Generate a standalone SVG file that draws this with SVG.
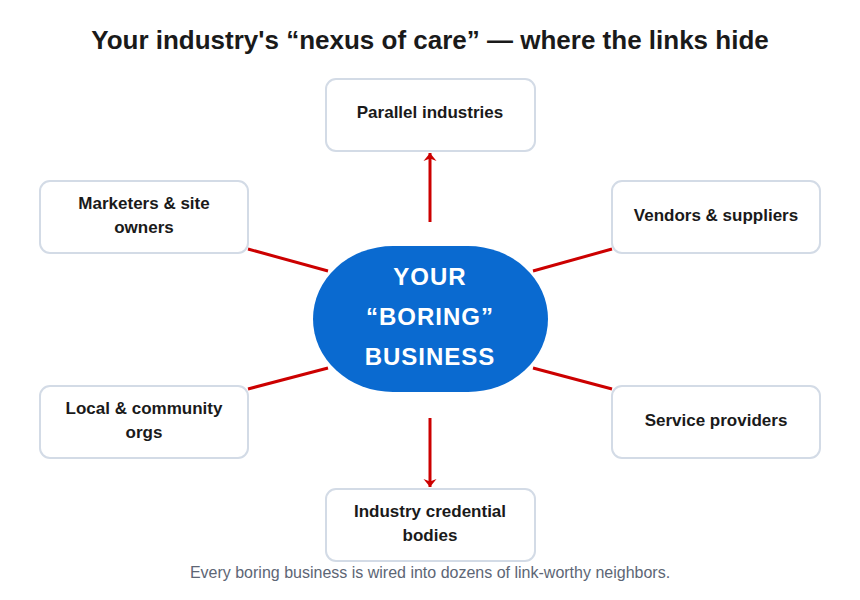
<svg xmlns="http://www.w3.org/2000/svg" width="860" height="600" viewBox="0 0 860 600">
<defs>
<marker id="arr" markerWidth="14" markerHeight="14" refX="8" refY="7" orient="auto" markerUnits="userSpaceOnUse" viewBox="0 0 14 14">
<path d="M0,0.5 L8,7 L0,13.5 L2.5,7 Z" fill="#cc0000"/>
</marker>
<style>
.box{fill:#fff;stroke:#d3dbe6;stroke-width:2}
.lbl{font-family:"Liberation Sans",Arial,sans-serif;font-weight:bold;font-size:17px;fill:#1a1a1a;text-anchor:middle}
.ctr{font-family:"Liberation Sans",Arial,sans-serif;font-weight:bold;font-size:24px;fill:#fff;text-anchor:middle;letter-spacing:1px}
.ln{stroke:#cc0000;stroke-width:3;fill:none}
</style>
</defs>
<rect width="860" height="600" fill="#fff"/>
<text x="430" y="49" font-family="Liberation Sans,Arial,sans-serif" font-weight="bold" font-size="26" fill="#1a1a1a" text-anchor="middle">Your industry's “nexus of care” — where the links hide</text>
<g id="connectors">
<line class="ln" x1="430" y1="222" x2="430" y2="153" marker-end="url(#arr)"/>
<line class="ln" x1="430" y1="418" x2="430" y2="487" marker-end="url(#arr)"/>
<line class="ln" x1="248" y1="249" x2="328" y2="271"/>
<line class="ln" x1="612" y1="249" x2="533" y2="271"/>
<line class="ln" x1="248" y1="389" x2="328" y2="368"/>
<line class="ln" x1="612" y1="389" x2="533" y2="368"/>
</g>
<g id="center">
<rect x="313" y="246" width="235" height="146" rx="80" ry="73" fill="#0a6ad0"/>
<text class="ctr" x="430" y="285">YOUR</text>
<text class="ctr" x="430" y="325">“BORING”</text>
<text class="ctr" x="430" y="365">BUSINESS</text>
</g>
<g id="parallel">
<rect class="box" x="326" y="79" width="209" height="72" rx="10"/>
<text class="lbl" x="430" y="118">Parallel industries</text>
</g>
<g id="marketers">
<rect class="box" x="40" y="181" width="208" height="72" rx="10"/>
<text class="lbl" x="144" y="209">Marketers &amp; site</text>
<text class="lbl" x="144" y="233">owners</text>
</g>
<g id="vendors">
<rect class="box" x="612" y="181" width="208" height="72" rx="10"/>
<text class="lbl" x="716" y="221">Vendors &amp; suppliers</text>
</g>
<g id="local">
<rect class="box" x="40" y="386" width="208" height="72" rx="10"/>
<text class="lbl" x="144" y="414">Local &amp; community</text>
<text class="lbl" x="144" y="438">orgs</text>
</g>
<g id="service">
<rect class="box" x="612" y="386" width="208" height="72" rx="10"/>
<text class="lbl" x="716" y="426">Service providers</text>
</g>
<g id="credential">
<rect class="box" x="326" y="489" width="209" height="72" rx="10"/>
<text class="lbl" x="430" y="517">Industry credential</text>
<text class="lbl" x="430" y="541">bodies</text>
</g>
<text x="430" y="578" font-family="Liberation Sans,Arial,sans-serif" font-size="16" fill="#5d6675" text-anchor="middle">Every boring business is wired into dozens of link-worthy neighbors.</text>
</svg>
